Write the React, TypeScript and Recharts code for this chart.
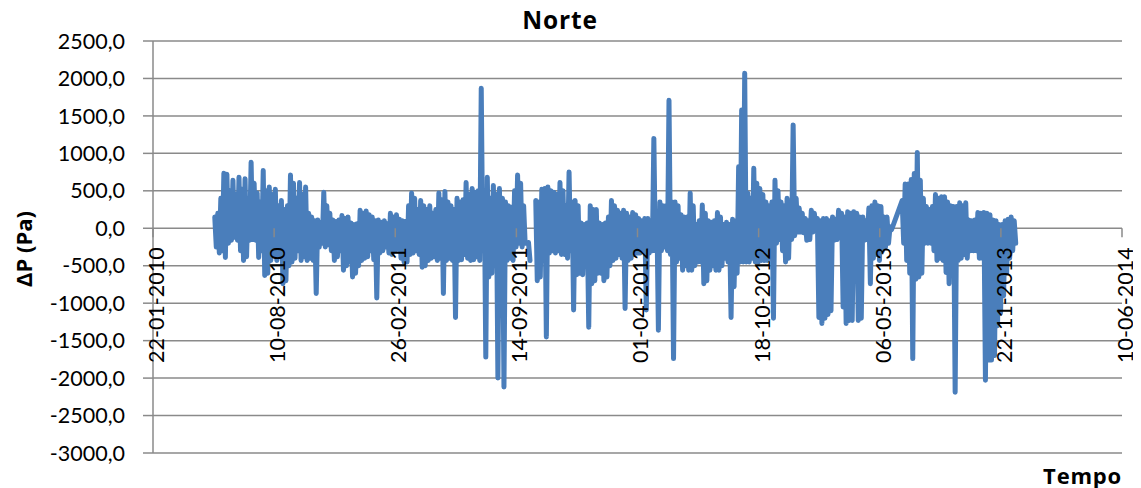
import { CartesianGrid, Line, LineChart, XAxis, YAxis } from 'recharts'

// days counted from 22-01-2010; each block holds the high and the low reading of every 5-day step
const STEP = 5
const startA = 102
const startB = 632
const startC = 1237

// May 2010 .. Sep 2011
const hiA = [
  150, 200, 400, 735, 720, 500, 640, 450, 680, 520,
  660, 400, 880, 600, 470, 350, 770, 500, 550, 450,
  520, 300, 370, 250, 300, 710, 600, 400, 610, 450,
  550, 200, 150, 100, 110, 80, 480, 300, 200, 110,
  90, 110, 170, 130, 150, 70, 50, 60, 240, 200,
  230, 180, 150, 100, 110, 80, 100, 60, 200, 150,
  180, 120, 100, 90, 300, 470, 400, 250, 370, 300,
  250, 300, 200, 250, 470, 380, 490, 350, 300, 250,
  400, 350, 380, 610, 450, 530, 480, 500, 1870, 500,
  680, 400, 570, 450, 530, 400, 350, 300, 280, 500,
  710, 600, 300,
]
const loA = [
  -250, -330, -300, -390, -200, -160, -120, -160, -300, -430,
  -380, -160, -150, -160, -390, -300, -630, -600, -430, -350,
  -430, -380, -740, -700, -500, -450, -400, -300, -430, -380,
  -430, -400, -430, -870, -250, -200, -250, -220, -300, -430,
  -380, -300, -560, -500, -450, -650, -600, -500, -430, -400,
  -380, -300, -420, -930, -330, -300, -250, -330, -350, -300,
  -280, -400, -450, -450, -350, -330, -300, -350, -520, -500,
  -430, -400, -380, -430, -400, -870, -430, -400, -430, -1190,
  -430, -420, -350, -400, -430, -420, -380, -430, -300, -1720,
  -650, -600, -500, -2000, -600, -2120, -430, -400, -430, -250,
  -200, -250, -200,
]

// short isolated piece inside the gap of Sep 2011
const blipDay = 620
const blipHi = -190
const blipLo = -430

// Oct 2011 .. May 2013
const hiB = [
  370, 350, 520, 530, 550, 500, 480, 450, 610, 500,
  300, 750, 350, 370, 300, 70, 50, 70, 300, 250,
  250, 70, 50, 70, 150, 370, 300, 240, 200, 240,
  200, 150, 210, 180, 130, 100, 130, 130, 100, 1200,
  200, 350, 300, 300, 1710, 350, 350, 300, 180, 150,
  150, 470, 300, 50, 100, 310, 200, 100, 80, 100,
  210, 150, 50, 80, 50, 120, 100, 820, 1580, 2070,
  470, 400, 800, 600, 530, 450, 350, 300, 350, 640,
  500, 350, 300, 400, 350, 1380, 400, 270, 200, 130,
  100, 240, 200, 130, 100, 130, 130, 100, 150, 120,
  240, 200, 150, 220, 200, 220, 200, 150, 150, 100,
  270, 300, 350, 300, 290, 150, 150, 20,
]
const loB = [
  -700, -650, -430, -1450, -330, -300, -330, -300, -350, -350,
  -400, -300, -1090, -620, -600, -620, -500, -1320, -740, -700,
  -600, -600, -700, -650, -500, -430, -400, -350, -400, -1070,
  -430, -400, -350, -330, -330, -300, -1090, -330, -300, -300,
  -1360, -300, -250, -300, -350, -1740, -450, -400, -560, -500,
  -560, -560, -500, -450, -450, -740, -700, -560, -500, -560,
  -560, -500, -400, -450, -1190, -780, -600, -450, -450, -450,
  -450, -400, -450, -450, -430, -430, -430, -400, -1200, -200,
  -150, -300, -450, -400, -150, -100, -50, -50, -60, -160,
  -150, -50, 0, -1190, -1270, -1200, -1150, -1100, -160, -150,
  -100, -1050, -1270, -1230, -1230, -200, -1230, -1200, -160, -150,
  -740, -400, -350, -430, -300, -250, -200, -20,
]

// Jun 2013 .. Dec 2013
const hiC = [
  370, 590, 590, 650, 730, 1010, 640, 400, 290, 250,
  290, 450, 400, 420, 420, 350, 300, 290, 290, 340,
  300, 340, 110, 100, 110, 210, 200, 210, 200, 180,
  110, 100, 50, 50, 100, 120, 150, 100,
]
const loC = [
  -200, -430, -600, -1740, -680, -650, -600, -200, -200, -200,
  -300, -430, -400, -430, -590, -740, -590, -2190, -430, -400,
  -350, -400, -300, -300, -300, -400, -400, -2030, -1760, -1760,
  -1700, -1300, -1130, -900, -600, -400, -300, -200,
]

const xTicks = [0, 200, 400, 600, 800, 1000, 1200, 1400, 1600]
const yTicks = [-3000, -2500, -2000, -1500, -1000, -500, 0, 500, 1000, 1500, 2000, 2500]

const block = (start: number, hi: number[], lo: number[]) =>
  hi.flatMap((h, i) => [
    { day: start + i * STEP, dp: h },
    { day: start + i * STEP + STEP / 2, dp: lo[i] },
  ])

const data = [
  ...block(startA, hiA, loA),
  { day: 614, dp: null },
  { day: blipDay, dp: blipHi },
  { day: blipDay + STEP / 2, dp: blipLo },
  { day: 628, dp: null },
  ...block(startB, hiB, loB),
  ...block(startC, hiC, loC),
]

const W = 1133
const H = 480
const M = { top: 33, right: 19, bottom: 34, left: 0 }
const plotH = H - M.top - M.bottom - 1
const zeroY = M.top + (plotH * 2500) / 5500

const FONT = 'Lato, "Open Sans", sans-serif'
const TITLE_FONT = '"Open Sans", Lato, sans-serif'
const GRID = '#8a8a8a'

const fmtDate = (d: number) => {
  const t = new Date(Date.UTC(2010, 0, 22) + d * 86400000)
  const dd = String(t.getUTCDate()).padStart(2, '0')
  const mm = String(t.getUTCMonth() + 1).padStart(2, '0')
  return `${dd}-${mm}-${t.getUTCFullYear()}`
}

const fmtNum = (v: number) => v.toFixed(1).replace('.', ',')

function DateTick(props: any) {
  const { x, payload } = props
  const cy = zeroY + 19
  return (
    <g>
      <line x1={x} y1={zeroY} x2={x} y2={zeroY + 9} stroke={GRID} strokeWidth={1.5} />
      <text
        x={x}
        y={cy + 11}
        transform={`rotate(-90, ${x}, ${cy})`}
        textAnchor="end"
        fontSize={21.5}
        fontFamily={FONT}
        fill="#000"
      >
        {fmtDate(payload.value)}
      </text>
    </g>
  )
}

export default function App() {
  return (
    <div style={{ position: 'relative', width: W, height: H, fontFamily: FONT }}>
      <div
        style={{
          position: 'absolute',
          left: 552 - 100,
          width: 200,
          top: -4,
          textAlign: 'center',
          fontFamily: TITLE_FONT,
          fontWeight: 700,
          fontSize: 24.5,
          letterSpacing: 0.8,
          lineHeight: '32px',
        }}
      >
        Norte
      </div>
      <div
        style={{
          position: 'absolute',
          left: 15 - 60,
          top: 241 - 15,
          width: 120,
          textAlign: 'center',
          fontFamily: TITLE_FONT,
          fontWeight: 700,
          fontSize: 22,
          lineHeight: '30px',
          transform: 'rotate(-90deg)',
        }}
      >
        ΔP (Pa)
      </div>
      <div
        style={{
          position: 'absolute',
          right: W - 1114,
          top: 452,
          fontFamily: TITLE_FONT,
          fontWeight: 700,
          fontSize: 22,
          letterSpacing: 0.8,
          lineHeight: '30px',
        }}
      >
        Tempo
      </div>
      <LineChart width={W} height={H} data={data} margin={M}>
        <CartesianGrid vertical={false} stroke={GRID} strokeWidth={1.5} />
        <XAxis
          dataKey="day"
          type="number"
          domain={[0, 1600]}
          ticks={xTicks}
          height={1}
          axisLine={false}
          tickLine={false}
          tick={<DateTick />}
          interval={0}
        />
        <YAxis
          type="number"
          domain={[-3000, 2500]}
          ticks={yTicks}
          width={145}
          interval={0}
          tickFormatter={fmtNum}
          axisLine={{ stroke: GRID, strokeWidth: 1.5 }}
          tickLine={{ stroke: GRID, strokeWidth: 1.5 }}
          tickSize={10}
          tickMargin={18}
          tick={{ fill: '#000', fontSize: 21.5, fontFamily: FONT }}
        />
        <Line
          type="linear"
          dataKey="dp"
          stroke="#4a7ebb"
          strokeWidth={5}
          strokeLinejoin="round"
          strokeLinecap="round"
          dot={false}
          activeDot={false}
          connectNulls={false}
          isAnimationActive={false}
        />
      </LineChart>
    </div>
  )
}
